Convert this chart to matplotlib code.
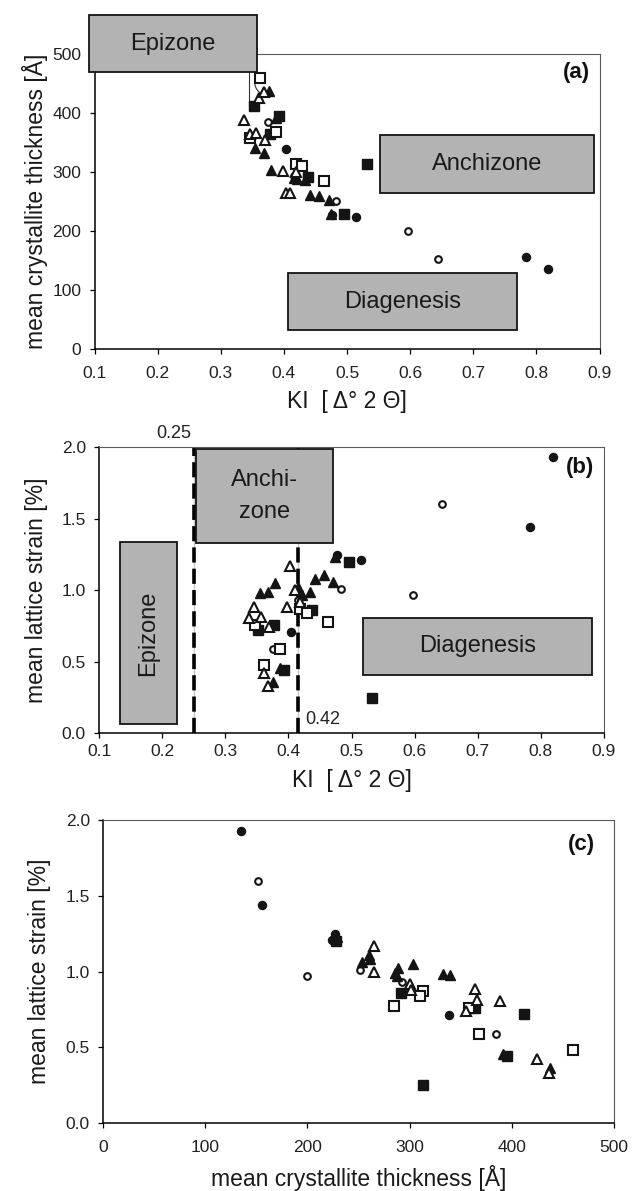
import matplotlib
matplotlib.use('Agg')
import matplotlib.pyplot as plt
from matplotlib.patches import Rectangle
from matplotlib.ticker import FormatStrFormatter

plt.rcParams['font.family'] = ['Liberation Sans', 'DejaVu Sans']

# ---- data: each sample has KI [D deg 2Theta], thickness [A], strain [%] ----
# filled circles
ki_fc = [0.819, 0.783, 0.515, 0.477, 0.404]
thk_fc = [135, 156, 224, 227, 339]
str_fc = [1.93, 1.44, 1.21, 1.25, 0.71]
# open circles
ki_oc = [0.644, 0.597, 0.483, 0.416, 0.375]
thk_oc = [152, 200, 251, 293, 385]
str_oc = [1.60, 0.97, 1.01, 0.93, 0.59]
# filled squares
ki_fs = [0.496, 0.438, 0.532, 0.352, 0.378, 0.393]
thk_fs = [228, 292, 313, 412, 364, 395]
str_fs = [1.20, 0.86, 0.25, 0.72, 0.76, 0.44]
# open squares
ki_os = [0.362, 0.387, 0.347, 0.419, 0.429, 0.463]
thk_os = [460, 368, 358, 313, 310, 285]
str_os = [0.48, 0.59, 0.76, 0.87, 0.84, 0.775]
# filled triangles
ki_ft = [0.474, 0.376, 0.387, 0.355, 0.368, 0.379, 0.416, 0.434, 0.421, 0.471, 0.456, 0.442]
thk_ft = [229, 437, 391, 340, 333, 303, 289, 286, 288, 253, 260, 261]
str_ft = [1.23, 0.36, 0.455, 0.98, 0.985, 1.05, 1.02, 0.99, 0.97, 1.06, 1.11, 1.08]
# open triangles
ki_ot = [0.403, 0.41, 0.419, 0.398, 0.346, 0.356, 0.337, 0.370, 0.361, 0.368]
thk_ot = [265, 265, 300, 301, 364, 366, 388, 355, 425, 436]
str_ot = [1.17, 1.00, 0.92, 0.88, 0.885, 0.81, 0.805, 0.74, 0.425, 0.33]

# zone boxes: (x0, x1, y0, y1, label)
boxes_a = [(0.091, 0.357, 469, 566, 'Epizone'),
           (0.552, 0.891, 264, 363, 'Anchizone'),
           (0.406, 0.769, 32, 128, 'Diagenesis')]
boxes_b = [(0.253, 0.471, 1.333, 1.986, 'Anchi-\nzone'),
           (0.133, 0.224, 0.065, 1.338, 'Epizone'),
           (0.519, 0.881, 0.408, 0.808, 'Diagenesis')]
ki_limits = [0.25, 0.415]
ki_limit_labels = ['0.25', '0.42']

INK = '#141414'
BOXC = '#b3b3b3'

styles = [
    ('o', True, 5.8),
    ('o', False, 4.8),
    ('s', True, 7.0),
    ('s', False, 7.0),
    ('^', True, 7.8),
    ('^', False, 7.8),
]
KI = [ki_fc, ki_oc, ki_fs, ki_os, ki_ft, ki_ot]
THK = [thk_fc, thk_oc, thk_fs, thk_os, thk_ft, thk_ot]
STR = [str_fc, str_oc, str_fs, str_os, str_ft, str_ot]

W, H = 632, 1191
fig = plt.figure(figsize=(W / 100, H / 100), dpi=100)


def add_ax(l, r, t, b):
    return fig.add_axes([l / W, 1 - b / H, (r - l) / W, (b - t) / H])


def style_ax(ax, xpad, ypad):
    for s in ['left', 'bottom']:
        ax.spines[s].set_color('black')
        ax.spines[s].set_linewidth(1.1)
    for s in ['top', 'right']:
        ax.spines[s].set_color('#5a5a5a')
        ax.spines[s].set_linewidth(0.8)
    ax.tick_params(axis='x', direction='out', length=3.5, width=0.9,
                   labelsize=12.5, pad=xpad, colors='black', labelcolor='#222222')
    ax.tick_params(axis='y', direction='out', length=3.5, width=0.9,
                   labelsize=12.5, pad=ypad, colors='black', labelcolor='#222222')


def scatter_all(ax, X, Y):
    for (m, filled, ms), xs, ys in zip(styles, X, Y):
        ax.plot(xs, ys, linestyle='none', marker=m, markersize=ms,
                markerfacecolor=INK if filled else 'white',
                markeredgecolor=INK, markeredgewidth=1.0 if filled else 1.5,
                zorder=6, clip_on=False)


def draw_box(ax, x0, x1, y0, y1, label, rot=0):
    r = Rectangle((x0, y0), x1 - x0, y1 - y0, facecolor=BOXC, edgecolor=INK,
                  linewidth=1.3, zorder=4, clip_on=False)
    ax.add_patch(r)
    ax.text((x0 + x1) / 2, (y0 + y1) / 2, label, ha='center', va='center',
            fontsize=17, rotation=rot, color='#1a1a1a', zorder=5,
            linespacing=1.6)


# ---------------- panel (a) ----------------
ax1 = add_ax(94.5, 599.5, 54, 349)
style_ax(ax1, 9, 6)
ax1.set_xlim(0.1, 0.9)
ax1.set_ylim(0, 500)
ax1.set_xticks([0.1, 0.2, 0.3, 0.4, 0.5, 0.6, 0.7, 0.8, 0.9])
ax1.xaxis.set_major_formatter(FormatStrFormatter('%.1f'))
ax1.set_yticks([0, 100, 200, 300, 400, 500])
for b in boxes_a:
    draw_box(ax1, *b)
# callout lines from Epizone box
ax1.plot([0.345, 0.345], [469, 412], color='#333333', lw=0.8, zorder=3)
ax1.annotate('', xy=(0.372, 428), xytext=(0.357, 467),
             arrowprops=dict(arrowstyle='-', color='#333333', lw=0.8,
                             connectionstyle='arc3,rad=0.5'), zorder=3)
scatter_all(ax1, KI, THK)
ax1.text(0.864, 469, '(a)', fontsize=16, fontweight='bold', ha='center',
         va='center', color='#111111')
ax1.set_xlabel('KI  [ \u0394\u00b0 2 \u0398]', fontsize=16.5, color='#1a1a1a')
ax1.set_ylabel('mean crystallite thickness [\u00c5]', fontsize=16.5, color='#1a1a1a')
ax1.xaxis.set_label_coords(0.5, -0.178)
ax1.xaxis.label.set_va('center')
ax1.yaxis.set_label_coords(-0.118, 0.5)
ax1.yaxis.label.set_va('center')

# ---------------- panel (b) ----------------
ax2 = add_ax(99, 604, 447.3, 733.3)
style_ax(ax2, 4, 6)
ax2.set_xlim(0.1, 0.9)
ax2.set_ylim(0, 2.0)
ax2.set_xticks([0.1, 0.2, 0.3, 0.4, 0.5, 0.6, 0.7, 0.8, 0.9])
ax2.xaxis.set_major_formatter(FormatStrFormatter('%.1f'))
ax2.set_yticks([0.0, 0.5, 1.0, 1.5, 2.0])
ax2.yaxis.set_major_formatter(FormatStrFormatter('%.1f'))
for xv in ki_limits:
    ax2.plot([xv, xv], [0, 2.0], color='#c8c8c8', lw=1.0, zorder=2)
    ax2.plot([xv, xv], [0, 2.0], color='black', lw=2.6, zorder=2.5,
             dashes=(4.2, 1.7))
draw_box(ax2, *boxes_b[0])
draw_box(ax2, *boxes_b[1], rot=90)
draw_box(ax2, *boxes_b[2])
scatter_all(ax2, KI, STR)
ax2.text(ki_limits[0] - 0.004, 2.1, ki_limit_labels[0], fontsize=13, ha='right',
         va='center', color='#222222')
ax2.text(ki_limits[1] + 0.012, 0.1, ki_limit_labels[1], fontsize=13, ha='left',
         va='center', color='#222222')
ax2.text(0.862, 1.86, '(b)', fontsize=16, fontweight='bold', ha='center',
         va='center', color='#111111')
ax2.set_xlabel('KI  [ \u0394\u00b0 2 \u0398]', fontsize=16.5, color='#1a1a1a')
ax2.set_ylabel('mean lattice strain [%]', fontsize=16.5, color='#1a1a1a')
ax2.xaxis.set_label_coords(0.5, -0.165)
ax2.xaxis.label.set_va('center')
ax2.yaxis.set_label_coords(-0.123, 0.5)
ax2.yaxis.label.set_va('center')

# ---------------- panel (c) ----------------
ax3 = add_ax(103, 614, 820, 1123)
style_ax(ax3, 9, 6)
ax3.set_xlim(0, 500)
ax3.set_ylim(0, 2.0)
ax3.set_xticks([0, 100, 200, 300, 400, 500])
ax3.set_yticks([0.0, 0.5, 1.0, 1.5, 2.0])
ax3.yaxis.set_major_formatter(FormatStrFormatter('%.1f'))
scatter_all(ax3, THK, STR)
ax3.text(468, 1.835, '(c)', fontsize=16, fontweight='bold', ha='center',
         va='center', color='#111111')
ax3.set_xlabel('mean crystallite thickness [\u00c5]', fontsize=16.5, color='#1a1a1a')
ax3.set_ylabel('mean lattice strain [%]', fontsize=16.5, color='#1a1a1a')
ax3.xaxis.set_label_coords(0.5, -0.18)
ax3.xaxis.label.set_va('center')
ax3.yaxis.set_label_coords(-0.124, 0.5)
ax3.yaxis.label.set_va('center')

fig.savefig('out.png', dpi=100)
